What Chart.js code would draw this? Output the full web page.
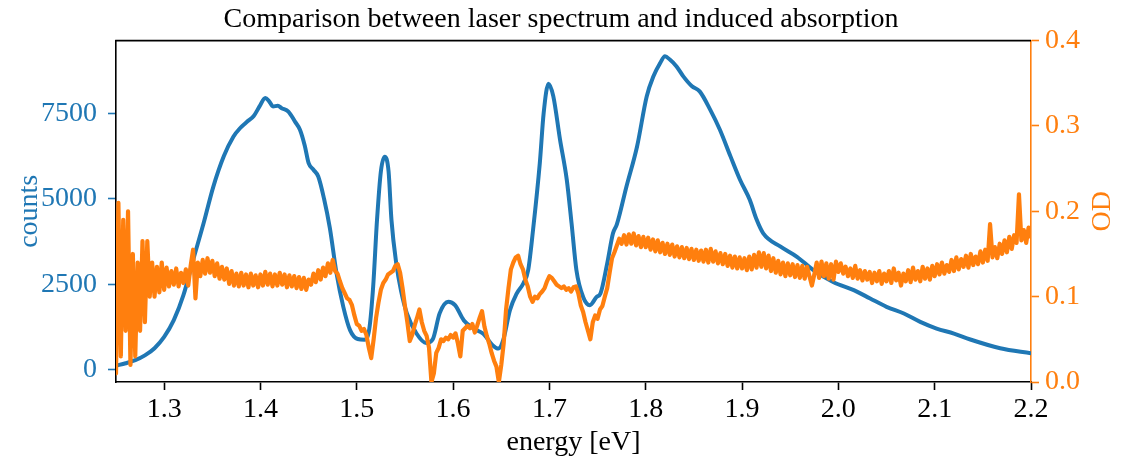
<!DOCTYPE html>
<html>
<head>
<meta charset="utf-8">
<script src="https://cdn.jsdelivr.net/npm/chart.js@4.4.1/dist/chart.umd.min.js"></script>
<style>
  html, body { margin: 0; padding: 0; background: #fff; }
</style>
</head>
<body>
<canvas id="myChart" width="1122" height="466"></canvas>
<script>
// laser spectrum (blue, left axis)
var blueEnergy = [1.250,1.260,1.270,1.280,1.290,1.300,1.310,1.320,1.330,1.341,
    1.351,1.362,1.372,1.379,1.386,1.393,1.399,1.405,1.409,1.413,
    1.418,1.422,1.429,1.436,1.441,1.446,1.450,1.455,1.460,1.466,
    1.472,1.479,1.486,1.493,1.501,1.508,1.513,1.517,1.521,1.525,
    1.529,1.533,1.536,1.541,1.546,1.552,1.562,1.572,1.579,1.586,
    1.595,1.602,1.611,1.621,1.631,1.641,1.647,1.652,1.659,1.666,
    1.673,1.678,1.683,1.690,1.694,1.699,1.704,1.711,1.718,1.723,
    1.728,1.735,1.742,1.749,1.753,1.760,1.766,1.770,1.780,1.791,
    1.801,1.808,1.815,1.820,1.825,1.832,1.839,1.848,1.856,1.867,
    1.877,1.888,1.898,1.908,1.915,1.922,1.940,1.957,1.974,1.995,
    2.016,2.033,2.050,2.068,2.085,2.102,2.120,2.137,2.168,2.200];
var blueCounts = [120,190,280,420,630,960,1450,2180,3200,4290,
    5350,6250,6820,7070,7250,7420,7700,7950,7850,7700,
    7720,7650,7550,7250,7020,6550,6040,5850,5650,5000,
    4150,2820,1840,1160,900,880,1200,2430,4380,5800,
    6230,5800,4380,3110,2300,1650,1060,780,900,1650,
    1990,1890,1450,1210,1060,720,620,865,1740,2230,
    2530,2920,4090,6040,7500,8365,8000,6730,5560,4280,
    2920,2130,1890,2130,2230,3110,3990,4250,5360,6530,
    7990,8580,8970,9165,9070,8870,8580,8290,8140,7600,
    7020,6240,5550,4970,4400,3990,3600,3305,2915,2560,
    2330,2085,1840,1645,1400,1205,1060,885,630,483];

// induced absorption (orange, right axis), sampled every 0.0025 eV from 1.25
var odStart = 1.25;
var odStep = 0.0025;
var odValues = [
    0.01,0.21,0.03,0.19,0.06,0.20,0.02,0.15,0.03,0.14,0.06,0.165,0.07,0.165,0.10,0.14,0.10,0.135,0.105,0.14,
    0.108,0.134,0.112,0.13,0.114,0.133,0.112,0.128,0.116,0.132,0.113,0.136,0.155,0.098,0.14,0.124,0.143,0.127,0.145,0.128,
    0.142,0.124,0.139,0.121,0.135,0.12,0.133,0.115,0.13,0.113,0.127,0.112,0.128,0.113,0.126,0.111,0.127,0.113,0.125,0.111,
    0.126,0.113,0.129,0.114,0.127,0.112,0.126,0.113,0.128,0.114,0.126,0.111,0.125,0.112,0.124,0.11,0.123,0.109,0.122,0.108,
    0.12,0.114,0.127,0.117,0.131,0.12,0.134,0.124,0.139,0.128,0.143,0.13,0.127,0.118,0.11,0.104,0.098,0.096,0.09,0.078,
    0.068,0.066,0.06,0.062,0.055,0.04,0.028,0.05,0.075,0.093,0.108,0.116,0.12,0.126,0.128,0.13,0.136,0.138,0.128,0.11,
    0.089,0.07,0.048,0.055,0.066,0.075,0.085,0.07,0.06,0.054,0.04,0.0,0.01,0.034,0.04,0.05,0.048,0.052,0.05,0.055,
    0.052,0.057,0.045,0.03,0.06,0.063,0.066,0.063,0.068,0.058,0.066,0.075,0.083,0.065,0.054,0.045,0.034,0.025,0.018,0.0,
    0.02,0.045,0.085,0.11,0.132,0.14,0.146,0.148,0.138,0.132,0.12,0.112,0.1,0.094,0.1,0.098,0.103,0.106,0.11,0.118,
    0.124,0.122,0.118,0.114,0.112,0.11,0.112,0.108,0.11,0.106,0.111,0.112,0.104,0.09,0.082,0.07,0.06,0.05,0.07,0.078,
    0.074,0.085,0.089,0.1,0.11,0.128,0.145,0.152,0.16,0.168,0.162,0.172,0.161,0.173,0.162,0.174,0.16,0.171,0.158,0.17,
    0.158,0.169,0.155,0.167,0.153,0.166,0.152,0.163,0.15,0.162,0.149,0.161,0.147,0.159,0.146,0.158,0.145,0.157,0.144,0.156,
    0.143,0.155,0.142,0.154,0.141,0.155,0.14,0.156,0.141,0.153,0.139,0.151,0.138,0.15,0.136,0.148,0.134,0.147,0.133,0.146,
    0.133,0.145,0.131,0.147,0.132,0.149,0.134,0.152,0.135,0.151,0.133,0.148,0.13,0.145,0.128,0.142,0.126,0.14,0.124,0.139,
    0.125,0.138,0.123,0.137,0.122,0.136,0.121,0.135,0.124,0.113,0.126,0.14,0.122,0.141,0.124,0.139,0.121,0.138,0.12,0.141,
    0.129,0.139,0.127,0.135,0.124,0.133,0.122,0.136,0.121,0.131,0.119,0.13,0.12,0.129,0.116,0.128,0.118,0.13,0.115,0.127,
    0.118,0.13,0.116,0.133,0.119,0.128,0.113,0.127,0.118,0.131,0.117,0.134,0.12,0.13,0.118,0.135,0.121,0.133,0.12,0.136,
    0.124,0.138,0.126,0.14,0.127,0.137,0.129,0.143,0.13,0.146,0.132,0.144,0.135,0.148,0.134,0.15,0.137,0.147,0.138,0.153,
    0.14,0.155,0.142,0.185,0.146,0.158,0.145,0.162,0.15,0.166,0.152,0.17,0.156,0.172,0.163,0.22,0.166,0.178,0.163,0.181,
    0.17];

var energyTicks = [1.3, 1.4, 1.5, 1.6, 1.7, 1.8, 1.9, 2.0, 2.1, 2.2];
var countTicks = [0, 2500, 5000, 7500];
var odTicks = [0, 0.1, 0.2, 0.3, 0.4];

var blue = '#1f77b4';
var orange = '#ff7f0e';
var serif = "'Liberation Serif', 'Times New Roman', serif";
Chart.defaults.font.family = serif;

var blueData = blueEnergy.map(function (e, i) { return {x: e, y: blueCounts[i]}; });
var odData = odValues.map(function (v, i) { return {x: odStart + i * odStep, y: v}; });

var fixTicks = function (list) {
    return function (scale) {
        scale.ticks = list.map(function (v) { return {value: v}; });
    };
};

// top spine + right axis label (matplotlib reads it bottom-to-top)
var extras = {
    id: 'extras',
    afterDraw: function (chart) {
        var ctx = chart.ctx, a = chart.chartArea;
        ctx.save();
        ctx.strokeStyle = '#000';
        ctx.lineWidth = 1.6;
        ctx.beginPath();
        ctx.moveTo(a.left - 0.8, a.top);
        ctx.lineTo(a.right, a.top);
        ctx.stroke();
        ctx.translate(1103, (a.top + a.bottom) / 2);
        ctx.rotate(-Math.PI / 2);
        ctx.fillStyle = orange;
        ctx.font = '28px ' + serif;
        ctx.textAlign = 'center';
        ctx.textBaseline = 'middle';
        ctx.fillText('OD', 0, 0);
        ctx.restore();
    }
};

var options = {
    responsive: false,
    animation: false,
    devicePixelRatio: 1,
    layout: { padding: 0 },
    plugins: {
        legend: { display: false },
        tooltip: { enabled: false },
        title: {
            display: true,
            text: 'Comparison between laser spectrum and induced absorption',
            color: '#000',
            font: { size: 28, weight: 'normal' },
            padding: { top: 3, bottom: 4 }
        }
    },
    scales: {
        x: {
            type: 'linear', min: 1.25, max: 2.2, position: 'bottom',
            afterFit: function (s) { s.height = 84; },
            afterBuildTicks: fixTicks(energyTicks),
            ticks: { color: '#000', font: { size: 28 }, padding: 3, maxRotation: 0, autoSkip: false,
                callback: function (v) { return v.toFixed(1); } },
            grid: { drawOnChartArea: false, tickLength: 8, tickWidth: 1.6, tickColor: '#000' },
            border: { color: '#000', width: 1.6 },
            title: { display: true, text: 'energy [eV]', color: '#000', font: { size: 28 }, padding: { top: 0, bottom: 7 } }
        },
        y: {
            type: 'linear', position: 'left', min: -357, max: 9625,
            afterFit: function (s) { s.width = 116; },
            afterBuildTicks: fixTicks(countTicks),
            ticks: { color: blue, font: { size: 28 }, padding: 11,
                callback: function (v) { return String(v); } },
            grid: { drawOnChartArea: false, tickLength: 8, tickWidth: 1.6, tickColor: blue },
            border: { color: '#000', width: 1.6 },
            title: { display: true, text: 'counts', color: blue, font: { size: 28 }, padding: { top: 13, bottom: 0 } }
        },
        y2: {
            type: 'linear', position: 'right', min: 0, max: 0.4,
            afterFit: function (s) { s.width = 91; },
            afterBuildTicks: fixTicks(odTicks),
            ticks: { color: orange, font: { size: 28 }, padding: 6,
                callback: function (v) { return v.toFixed(1); } },
            grid: { drawOnChartArea: false, tickLength: 8, tickWidth: 1.6, tickColor: orange },
            border: { color: orange, width: 1.6 },
            title: { display: false }
        }
    }
};

var myChart = new Chart(document.getElementById('myChart'), {
    type: 'line',
    data: {
        datasets: [
            { label: 'OD', data: odData, yAxisID: 'y2', borderColor: orange, borderWidth: 4.2,
              borderJoinStyle: 'round', borderCapStyle: 'round',
              pointRadius: 0, tension: 0, clip: 0, order: 0 },
            { label: 'counts', data: blueData, yAxisID: 'y', borderColor: blue, borderWidth: 4,
              borderJoinStyle: 'round', borderCapStyle: 'round',
              pointRadius: 0, cubicInterpolationMode: 'monotone', clip: 0, order: 1 }
        ]
    },
    options: options,
    plugins: [extras]
});
</script>
</body>
</html>
